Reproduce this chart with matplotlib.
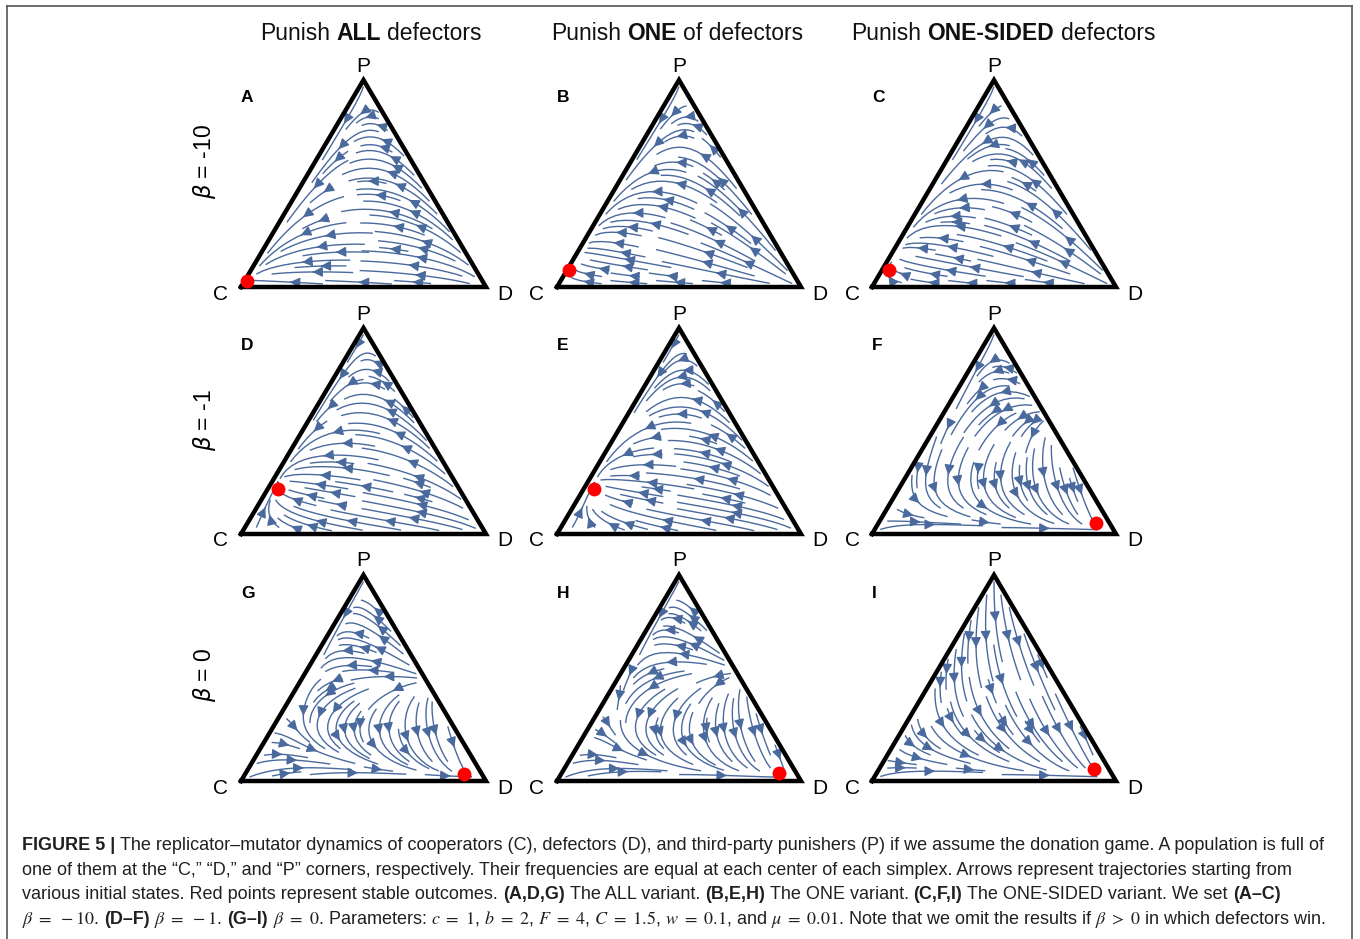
import numpy as np
import matplotlib
matplotlib.use("Agg")
import matplotlib.pyplot as plt
from matplotlib.lines import Line2D

# ---- panel data -------------------------------------------------------------
col_titles = [("Punish", "ALL", "defectors"),
              ("Punish", "ONE", "of defectors"),
              ("Punish", "ONE-SIDED", "defectors")]
row_titles = [r"$\beta$ = -10", r"$\beta$ = -1", r"$\beta$ = 0"]
panel_ids = ["A", "B", "C", "D", "E", "F", "G", "H", "I"]

# payoff matrices, rows/cols ordered (C, D, P)
pay_A = [[0, 0, 0], [-3, -3, -3], [-1.5, -1.5, -1.5]]
pay_B = [[0, 0, 0], [-4, -4, -4], [0.24, 0.24, -2.76]]
pay_C = [[0, 0, 0], [-2.5, -2.5, -4], [0.24, 0.24, -2.76]]
pay_D = [[1, -1, 1], [0, -2, -4], [1.66, -1.84, -1.34]]
pay_E = [[1, -1, 1], [0.2, -1.8, -3.8], [1.66, -1.84, -1.34]]
pay_F = [[1, -1, 1], [2, 0, -1.6], [0.4, -2.5, 0.4]]
pay_G = [[1, -1, 1], [2, 0, -2], [0.9, -2.6, 0.9]]
pay_H = [[1, -1, 1], [2, 0, -2], [0.9, -3.0, 0.9]]
pay_I = [[1, -1, 1], [2, 0, 1], [0.5, -2.5, 0.5]]
payoffs = [pay_A, pay_B, pay_C, pay_D, pay_E, pay_F, pay_G, pay_H, pay_I]

# stable outcomes (frequency of C, D, P)
stable_c = [0.96, 0.91, 0.89, 0.74, 0.74, 0.057, 0.073, 0.071, 0.062]
stable_d = [0.01, 0.01, 0.03, 0.04, 0.04, 0.89, 0.893, 0.89, 0.88]
stable_p = [0.03, 0.08, 0.08, 0.22, 0.22, 0.053, 0.034, 0.039, 0.058]

mu = 0.01
w = 0.1

caption = [
    [("FIGURE 5 |", "bold"),
     ("The replicator\u2013mutator dynamics of cooperators (C), defectors (D), and third-party "
      "punishers (P) if we assume the donation game. A population is full of", "normal")],
    [("one of them at the \u201cC,\u201d \u201cD,\u201d and \u201cP\u201d corners, respectively. "
      "Their frequencies are equal at each center of each simplex. Arrows represent trajectories "
      "starting from", "normal")],
    [("various initial states. Red points represent stable outcomes.", "normal"),
     ("(A,D,G)", "bold"), ("The ALL variant.", "normal"),
     ("(B,E,H)", "bold"), ("The ONE variant.", "normal"),
     ("(C,F,I)", "bold"), ("The ONE-SIDED variant. We set", "normal"),
     ("(A\u2013C)", "bold")],
    [(r"$\beta\ =\ -10$.", "normal"), ("(D\u2013F)", "bold"), (r"$\beta\ =\ -1$.", "normal"),
     ("(G\u2013I)", "bold"),
     (r"$\beta\ =\ 0$. Parameters: $c\ =\ 1$, $b\ =\ 2$, $F\ =\ 4$, $C\ =\ 1.5$, $w\ =\ 0.1$, and "
      r"$\mu\ =\ 0.01$. Note that we omit the results if $\beta\ >\ 0$ in which defectors win.",
      "normal")],
]

# ---- geometry ---------------------------------------------------------------
W, HF = 1360, 939
col_c = [241, 557, 872]
col_d = [486, 801, 1116]
row_base = [287, 534, 781]
row_apex = [80, 328, 575]
H = np.sqrt(3) / 2
blue = "#4a6a9e"
sans = ["Liberation Sans", "DejaVu Sans"]
narrow = ["Liberation Sans Narrow", "Liberation Sans", "DejaVu Sans"]

fig = plt.figure(figsize=(13.6, 9.39), dpi=100)
fig.patch.set_facecolor("white")


def flow(A, c, d, p):
    x = np.stack([c, d, p])
    pay = np.einsum("ij,jyx->iyx", np.array(A, float), x)
    mean = (x * pay).sum(0)
    dx = w * x * (pay - mean) + mu / 2 * (1 - 3 * x)
    return dx[1] + dx[2] / 2, dx[2] * H


gx = np.linspace(0, 1, 160)
gy = np.linspace(0, H, 139)
X, Y = np.meshgrid(gx, gy)
P = Y / H
Dd = X - P / 2
Cc = 1 - Dd - P
outside = (P < 0.01) | (Dd < 0.01) | (Cc < 0.01)

xm, ym = 0.3, 0.25
for i in range(9):
    r, k = divmod(i, 3)
    sx = col_d[k] - col_c[k]
    sy = (row_base[r] - row_apex[r]) / H
    left = col_c[k] - xm * sx
    right = col_d[k] + xm * sx
    bot = row_base[r] + ym * sy
    top = row_apex[r] - ym * sy
    ax = fig.add_axes([left / W, 1 - bot / HF, (right - left) / W, (bot - top) / HF])
    ax.set_xlim(-xm, 1 + xm)
    ax.set_ylim(-ym, H + ym)
    ax.axis("off")

    U, V = flow(payoffs[i], Cc, Dd, P)
    U = np.ma.masked_where(outside, U)
    V = np.ma.masked_where(outside, V)
    ax.streamplot(gx, gy, U, V, density=1.1, color=blue, linewidth=1.0,
                  arrowsize=1.5, maxlength=0.8, zorder=2)

    ax.plot([0, 1, 0.5, 0], [0, 0, H, 0], color="black", lw=3.2,
            solid_joinstyle="miter", zorder=3, clip_on=False)

    sp = stable_p[i]
    ax.plot(stable_d[i] + sp / 2, sp * H, "o", ms=10, color="#ff0000",
            mec="none", zorder=5, clip_on=False)

    ax.text(0.5, H + 14 / sy, "P", ha="center", va="center", fontsize=15,
            family=sans)
    ax.text(-20 / sx, -7 / sy, "C", ha="center", va="center", fontsize=15,
            family=sans)
    ax.text(1 + 19 / sx, -7 / sy, "D", ha="center", va="center", fontsize=15,
            family=sans)
    ax.text(0.0, (row_base[r] - (row_apex[r] + 18)) / sy, panel_ids[i],
            ha="left", va="center", fontsize=12.5, fontweight="bold", family=sans)

renderer = fig.canvas.get_renderer()


def text_width(s, **kw):
    t = fig.text(0, 0, s, **kw)
    wd = t.get_window_extent(renderer).width
    t.remove()
    return wd


def draw_pieces(x0, y0, pieces, size, family, color, center=False):
    gap = text_width("a a", fontsize=size, family=family) - \
        text_width("aa", fontsize=size, family=family)
    widths = [text_width(s, fontsize=size, family=family, fontweight=wt,
                         math_fontfamily="stix") for s, wt in pieces]
    total = sum(widths) + gap * (len(pieces) - 1)
    x = x0 - total / 2 if center else x0
    for (s, wt), wd in zip(pieces, widths):
        fig.text(x / W, 1 - y0 / HF, s, fontsize=size, family=family,
                 fontweight=wt, color=color, va="baseline", ha="left",
                 math_fontfamily="stix")
        x += wd + gap


# column headings
for k, (a, b, c) in enumerate(col_titles):
    cx = [371, 677, 1003][k]
    draw_pieces(cx, 40, [(a, "normal"), (b, "bold"), (c, "normal")], 16.5,
                sans, "#111111", center=True)

# row headings
for r, s in enumerate(row_titles):
    fig.text(205 / W, 1 - [162, 420, 675][r] / HF, s, rotation=90,
             ha="center", va="center", fontsize=16.5, family=sans)

# caption
for j, line in enumerate(caption):
    draw_pieces(22, 850 + 24.6 * j, line, 13, narrow, "#231f20")

# frame
for xs, ys in [([7, 7], [6, 939]), ([7, 1352], [6, 6]), ([1352, 1352], [6, 939])]:
    fig.add_artist(Line2D([v / W for v in xs], [1 - v / HF for v in ys],
                          transform=fig.transFigure, color="#555555", lw=1.2))

fig.savefig("out.png", dpi=100)
